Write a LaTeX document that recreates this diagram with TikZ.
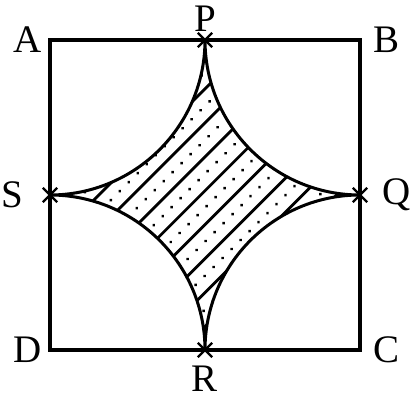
\documentclass[tikz,border=0pt]{standalone}
\usepackage{fontspec}
\setmainfont{Liberation Serif}
\usepackage{tikz}
\usetikzlibrary{positioning,shapes.misc}
\tikzset{
  sqline/.style={line width=3.2pt, line join=miter},
  arcline/.style={line width=3pt},
  hatchline/.style={line width=2.8pt},
  xmark/.style={cross out, draw, line width=2.4pt, minimum size=12pt, inner sep=0pt},
  ptlabel/.style={inner sep=0pt, font=\fontsize{39}{39}\selectfont}
}

\begin{document}
\begin{tikzpicture}[x=1pt, y=1pt]
        \useasboundingbox (0,0) rectangle (412,401);
        % corners and midpoints
        \coordinate (A) at (50,361);
        \coordinate (B) at (360,361);
        \coordinate (C) at (360,51);
        \coordinate (D) at (50,51);
        \coordinate (P) at (205,361);
        \coordinate (Q) at (360,206);
        \coordinate (R) at (205,51);
        \coordinate (S) at (50,206);
        \coordinate (O) at (205,206);
        \draw[sqline] (A) -- (B) -- (C) -- (D) -- cycle;
        % shaded region between the quarter circles
        \begin{scope}
          \clip (P) arc[start angle=0, end angle=-90, radius=155]
                    arc[start angle=90, end angle=0, radius=155]
                    arc[start angle=180, end angle=90, radius=155]
                    arc[start angle=270, end angle=180, radius=155] -- cycle;
          \begin{scope}[shift={(O)}, rotate=45]
            \foreach \k in {-8,...,8}
              \draw[hatchline] (-260,3+24*\k) -- (260,3+24*\k);
            \foreach \k in {-8,...,8}
              \foreach \j in {-20,...,20}
                \fill (6+12.7*\j,15+24*\k) circle[radius=1.7];
          \end{scope}
        \end{scope}
        \draw[arcline] (P) arc[start angle=0, end angle=-90, radius=155]
                           arc[start angle=90, end angle=0, radius=155]
                           arc[start angle=180, end angle=90, radius=155]
                           arc[start angle=270, end angle=180, radius=155] -- cycle;
        \foreach \p in {P,Q,R,S}
          \node[xmark] (x\p) at (\p) {};
        \node[ptlabel, left=8pt of A]   (lA) {A};
        \node[ptlabel, right=13pt of B] (lB) {B};
        \node[ptlabel, right=13pt of C] (lC) {C};
        \node[ptlabel, left=8pt of D]   (lD) {D};
        \node[ptlabel, above=8pt of P]  (lP) {P};
        \node[ptlabel, right=22pt of Q] (lQ) {Q};
        \node[ptlabel, below=16pt of R] (lR) {R};
        \node[ptlabel, left=27pt of S]  (lS) {S};
      \end{tikzpicture}
\end{document}
